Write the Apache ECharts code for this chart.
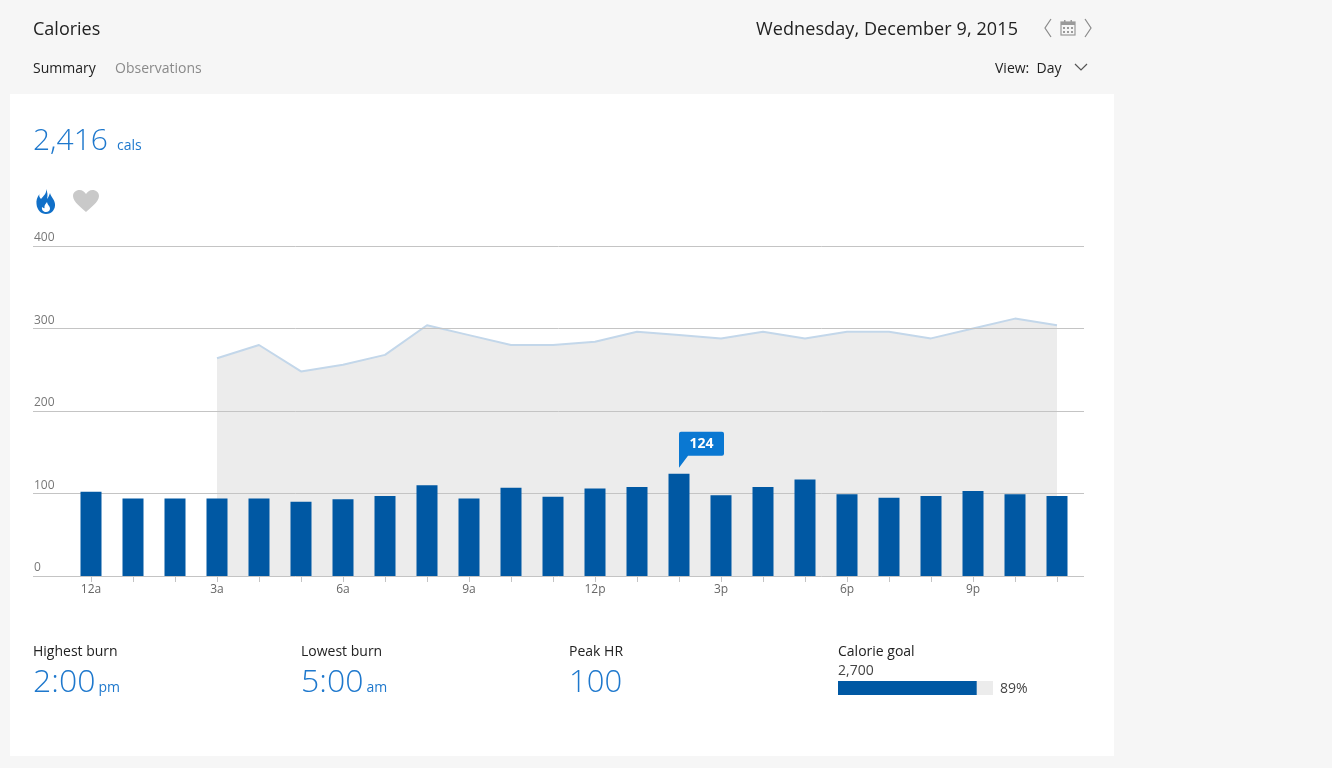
<!DOCTYPE html>
<html>
<head>
<meta charset="utf-8">
<script src="https://cdn.jsdelivr.net/npm/echarts@6/dist/echarts.min.js"></script>
<style>
  html,body{margin:0;padding:0;background:#f6f6f6;width:1332px;height:768px;overflow:hidden;
    font-family:"Segoe UI","Open Sans",sans-serif;color:#222;}
  .abs{position:absolute;white-space:nowrap;}
  #panel{position:absolute;left:10px;top:94px;width:1104px;height:662px;background:#fff;z-index:0;}
  #chart{position:absolute;left:0;top:0;width:1332px;height:768px;z-index:1;}
  .txt{z-index:2;}
  .blue{color:#1e78cd;}
</style>
</head>
<body>
<div id="panel"></div>
<div id="chart"></div>

<div class="abs txt" style="left:33px;top:15px;font-size:18px;line-height:26px;">Calories</div>
<div class="abs txt" style="left:33px;top:57px;font-size:14px;line-height:22px;">Summary</div>
<div class="abs txt" style="left:115px;top:57px;font-size:14px;line-height:22px;color:#8a8a8a;">Observations</div>

<div class="abs txt" style="left:756px;top:15px;font-size:18px;line-height:26px;letter-spacing:0.1px;">Wednesday, December 9, 2015</div>
<svg class="abs txt" style="left:1040px;top:16px;" width="60" height="24" viewBox="0 0 60 24">
  <polyline points="11,3 5,12 11,21" fill="none" stroke="#8a8a8a" stroke-width="1.2"/>
  <rect x="21" y="6" width="14" height="13" fill="none" stroke="#9a9a9a" stroke-width="1.2"/>
  <rect x="21" y="6" width="14" height="3" fill="#9a9a9a"/>
  <rect x="24" y="4" width="1.5" height="3" fill="#9a9a9a"/>
  <rect x="30.5" y="4" width="1.5" height="3" fill="#9a9a9a"/>
  <g fill="#9a9a9a">
    <rect x="23" y="11" width="2" height="2"/><rect x="27" y="11" width="2" height="2"/><rect x="31" y="11" width="2" height="2"/>
    <rect x="23" y="15" width="2" height="2"/><rect x="27" y="15" width="2" height="2"/><rect x="31" y="15" width="2" height="2"/>
  </g>
  <polyline points="45,3 51,12 45,21" fill="none" stroke="#8a8a8a" stroke-width="1.2"/>
</svg>
<div class="abs txt" style="left:995px;top:57px;font-size:14px;line-height:22px;">View:&nbsp; Day</div>
<svg class="abs txt" style="left:1073px;top:62px;" width="16" height="10" viewBox="0 0 16 10">
  <polyline points="2,2 8,8 14,2" fill="none" stroke="#555" stroke-width="1.2"/>
</svg>

<div class="abs txt blue" style="left:33px;top:119px;line-height:40px;">
  <span id="total" style="font-size:30px;font-weight:300;">0</span><span style="font-size:14px;margin-left:9px;">cals</span>
</div>

<svg class="abs txt" style="left:34px;top:188px;" width="24" height="28" viewBox="0 0 24 28">
  <path d="M12,1 C13,6 9,8 7,11 C5,9 5,7 5.5,6 C3,9 2,13 2.5,16 C3,22 7,26 12,26 C18,26 21.5,21 21,16 C20.5,11 17,9 16,5 C15,8 14,10 13,11 C14,7 13.5,4 12,1 Z M12,24 C9,24 7.5,21.5 8,19 C9,20 10,20.5 10.5,20 C10,17 12,15.5 13,14 C13.5,17 16,18 16,20.5 C16,22.5 14.5,24 12,24 Z" fill="#1170c8" fill-rule="evenodd"/>
</svg>
<svg class="abs txt" style="left:72px;top:189px;" width="28" height="24" viewBox="0 0 28 24">
  <path d="M14,23 C10,19 1,13 1,7 C1,3.5 4,1 7.5,1 C10.5,1 12.5,3 14,5 C15.5,3 17.5,1 20.5,1 C24,1 27,3.5 27,7 C27,13 18,19 14,23 Z" fill="#c9c9c9"/>
</svg>

<div class="abs txt" style="left:33px;top:640px;font-size:14px;line-height:22px;">Highest burn</div>
<div class="abs txt blue" style="left:33px;top:660px;line-height:40px;"><span style="font-size:32px;font-weight:300;">2:00</span><span style="font-size:14px;margin-left:3px;">pm</span></div>

<div class="abs txt" style="left:301px;top:640px;font-size:14px;line-height:22px;">Lowest burn</div>
<div class="abs txt blue" style="left:301px;top:660px;line-height:40px;"><span style="font-size:32px;font-weight:300;">5:00</span><span style="font-size:14px;margin-left:3px;">am</span></div>

<div class="abs txt" style="left:569px;top:640px;font-size:14px;line-height:22px;">Peak HR</div>
<div class="abs txt blue" style="left:569px;top:660px;line-height:40px;"><span style="font-size:31px;font-weight:300;">100</span></div>

<div class="abs txt" style="left:838px;top:640px;font-size:14px;line-height:22px;">Calorie goal</div>
<div class="abs txt" id="goalTxt" style="left:838px;top:660px;font-size:14px;line-height:20px;color:#444;">2,700</div>
<div class="abs txt" id="pctTxt" style="left:1000px;top:677px;font-size:14px;line-height:22px;color:#444;">89%</div>

<script>
// ---- data ----
const hours = ['12a','1a','2a','3a','4a','5a','6a','7a','8a','9a','10a','11a',
               '12p','1p','2p','3p','4p','5p','6p','7p','8p','9p','10p','11p'];
const calories = [102,94,94,94,94,90,93,97,110,94,107,96,
                  106,108,124,98,108,117,99,95,97,103,99,97];
const trendLine = ['-','-','-',264,280,248,256,268,304,292,280,280,
                   284,296,292,288,296,288,296,296,288,300,312,304];
const yTicks = [0,100,200,300,400];
const calorieGoal = [2700];

const total = calories.reduce((a,b)=>a+b,0);
document.getElementById('total').textContent = total.toLocaleString('en-US');
document.getElementById('goalTxt').textContent = calorieGoal[0].toLocaleString('en-US');
document.getElementById('pctTxt').textContent = Math.floor(total / calorieGoal[0] * 100) + '%';

const chart = echarts.init(document.getElementById('chart'), null, {renderer:'canvas'});
const FONT = '"Segoe UI","Open Sans",sans-serif';
const top0 = 246, h0 = 330;

chart.setOption({
  backgroundColor: 'transparent',
  animation: false,
  grid: [
    {left: 33, width: 1051, top: top0, height: h0},
    {left: 70, width: 1008, top: top0, height: h0},
    {left: 838, width: 155, top: 681, height: 14}
  ],
  xAxis: [
    {gridIndex: 0, type: 'value', show: false, min: 0, max: 1},
    {gridIndex: 1, type: 'category', data: hours, boundaryGap: true,
      axisLine: {show: false},
      axisTick: {show: true, alignWithLabel: true, interval: 0, length: 6,
        lineStyle: {color: '#c4c4c4', width: 1}},
      axisLabel: {interval: 2, margin: 8, color: '#666', fontSize: 12, fontFamily: FONT}
    },
    {gridIndex: 2, type: 'value', min: 0, max: calorieGoal[0], show: false}
  ],
  yAxis: [
    {gridIndex: 0, type: 'value', min: yTicks[0], max: yTicks[yTicks.length-1], interval: 100, z: 3,
      axisLine: {show: false}, axisTick: {show: false},
      splitLine: {show: true, lineStyle: {color: '#c4c4c4', width: 1}},
      axisLabel: {inside: true, margin: 1, align: 'left', verticalAlign: 'bottom',
        padding: [0,0,2,0], color: '#777', fontSize: 12, fontFamily: FONT}
    },
    {gridIndex: 1, type: 'value', min: yTicks[0], max: yTicks[yTicks.length-1], show: false},
    {gridIndex: 2, type: 'category', data: ['goal'], show: false}
  ],
  series: [
    {
      type: 'line', xAxisIndex: 1, yAxisIndex: 1, data: trendLine, z: 1,
      symbol: 'none', connectNulls: false,
      lineStyle: {color: '#c3d7ea', width: 2},
      areaStyle: {color: '#ececec', opacity: 1}
    },
    {
      type: 'bar', xAxisIndex: 1, yAxisIndex: 1, data: calories, z: 4,
      barWidth: 21,
      itemStyle: {color: '#0058a3'},
      markPoint: {
        data: [{type: 'max'}],
        symbol: 'path://M2,0 L43,0 Q45,0 45,2 L45,22 Q45,24 43,24 L9,24 L0,36 L0,2 Q0,0 2,0 Z',
        symbolSize: [45, 36],
        symbolKeepAspect: false,
        symbolOffset: [22.5, -24],
        itemStyle: {color: '#0a78d2'},
        label: {show: true, position: 'inside', offset: [0, -6], formatter: '{c}',
          color: '#fff', fontSize: 14, fontWeight: 'bold', fontFamily: FONT}
      }
    },
    {
      type: 'bar', xAxisIndex: 2, yAxisIndex: 2, data: [total], barWidth: 14,
      showBackground: true, backgroundStyle: {color: '#ececec'},
      itemStyle: {color: '#0058a3'}
    }
  ]
});
</script>
</body>
</html>
